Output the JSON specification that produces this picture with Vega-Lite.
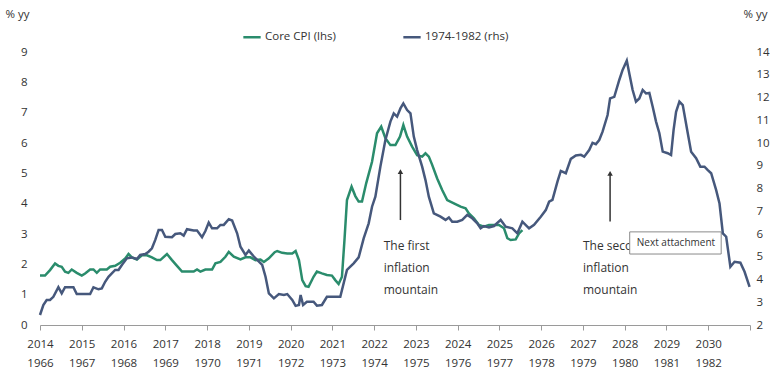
{
  "$schema": "https://vega.github.io/schema/vega-lite/v6.json",
  "width": 710,
  "height": 273,
  "autosize": "none",
  "padding": {"left": 40, "top": 52, "right": 30, "bottom": 52},
  "background": "white",
  "config": {
    "view": {"stroke": null},
    "font": "Open Sans",
    "text": {"font": "Open Sans"}
  },
  "datasets": {
    "core": [
      {"t":2014.00,"v":1.63},{"t":2014.12,"v":1.63},{"t":2014.24,"v":1.81},{"t":2014.36,"v":2.03},{"t":2014.44,"v":1.95},{"t":2014.52,"v":1.92},{"t":2014.60,"v":1.76},{"t":2014.68,"v":1.72},{"t":2014.76,"v":1.83},{"t":2014.88,"v":1.72},
      {"t":2015.00,"v":1.63},{"t":2015.08,"v":1.70},{"t":2015.20,"v":1.83},{"t":2015.28,"v":1.83},{"t":2015.36,"v":1.72},{"t":2015.44,"v":1.83},{"t":2015.60,"v":1.83},{"t":2015.68,"v":1.92},{"t":2015.80,"v":1.95},{"t":2015.92,"v":2.05},
      {"t":2016.04,"v":2.19},{"t":2016.12,"v":2.34},{"t":2016.20,"v":2.23},{"t":2016.32,"v":2.16},{"t":2016.44,"v":2.30},{"t":2016.56,"v":2.30},{"t":2016.68,"v":2.23},{"t":2016.80,"v":2.14},{"t":2016.88,"v":2.14},
      {"t":2017.04,"v":2.34},{"t":2017.16,"v":2.14},{"t":2017.28,"v":1.95},{"t":2017.40,"v":1.76},{"t":2017.52,"v":1.76},{"t":2017.68,"v":1.76},{"t":2017.76,"v":1.83},{"t":2017.84,"v":1.76},{"t":2017.96,"v":1.83},
      {"t":2018.12,"v":1.83},{"t":2018.20,"v":2.03},{"t":2018.32,"v":2.08},{"t":2018.44,"v":2.25},{"t":2018.52,"v":2.41},{"t":2018.64,"v":2.25},{"t":2018.80,"v":2.16},{"t":2018.92,"v":2.23},
      {"t":2019.04,"v":2.23},{"t":2019.16,"v":2.14},{"t":2019.28,"v":2.16},{"t":2019.36,"v":2.08},{"t":2019.48,"v":2.20},{"t":2019.62,"v":2.40},{"t":2019.68,"v":2.44},{"t":2019.80,"v":2.38},{"t":2019.92,"v":2.36},
      {"t":2020.04,"v":2.36},{"t":2020.12,"v":2.44},{"t":2020.20,"v":2.14},{"t":2020.28,"v":1.48},{"t":2020.36,"v":1.28},{"t":2020.43,"v":1.26},{"t":2020.55,"v":1.59},{"t":2020.63,"v":1.76},{"t":2020.75,"v":1.70},{"t":2020.87,"v":1.65},{"t":2020.99,"v":1.63},
      {"t":2021.07,"v":1.48},{"t":2021.15,"v":1.35},{"t":2021.23,"v":1.59},{"t":2021.29,"v":2.80},{"t":2021.35,"v":4.12},{"t":2021.46,"v":4.56},{"t":2021.55,"v":4.25},{"t":2021.63,"v":4.07},{"t":2021.71,"v":4.07},{"t":2021.81,"v":4.67},{"t":2021.95,"v":5.38},
      {"t":2022.07,"v":6.32},{"t":2022.17,"v":6.54},{"t":2022.27,"v":6.16},{"t":2022.39,"v":5.93},{"t":2022.51,"v":5.93},{"t":2022.62,"v":6.21},{"t":2022.70,"v":6.59},{"t":2022.79,"v":6.21},{"t":2022.91,"v":5.88},
      {"t":2023.03,"v":5.60},{"t":2023.15,"v":5.55},{"t":2023.23,"v":5.66},{"t":2023.31,"v":5.55},{"t":2023.39,"v":5.28},{"t":2023.51,"v":4.83},{"t":2023.63,"v":4.45},{"t":2023.75,"v":4.12},{"t":2023.91,"v":4.01},
      {"t":2024.07,"v":3.90},{"t":2024.19,"v":3.85},{"t":2024.27,"v":3.68},{"t":2024.39,"v":3.52},{"t":2024.51,"v":3.30},{"t":2024.63,"v":3.24},{"t":2024.75,"v":3.30},{"t":2024.87,"v":3.30},{"t":2024.99,"v":3.30},
      {"t":2025.11,"v":3.19},{"t":2025.19,"v":2.86},{"t":2025.27,"v":2.80},{"t":2025.39,"v":2.82},{"t":2025.47,"v":3.02},{"t":2025.55,"v":3.13}
    ],
    "hist": [
      {"t":2014.00,"v":2.44},{"t":2014.08,"v":2.88},{"t":2014.16,"v":3.10},{"t":2014.24,"v":3.10},{"t":2014.32,"v":3.24},{"t":2014.44,"v":3.66},{"t":2014.52,"v":3.39},{"t":2014.60,"v":3.66},{"t":2014.80,"v":3.66},{"t":2014.88,"v":3.36},
      {"t":2015.00,"v":3.36},{"t":2015.20,"v":3.36},{"t":2015.28,"v":3.66},{"t":2015.40,"v":3.57},{"t":2015.48,"v":3.61},{"t":2015.56,"v":3.90},{"t":2015.64,"v":4.12},{"t":2015.72,"v":4.27},{"t":2015.80,"v":4.42},{"t":2015.88,"v":4.42},{"t":2015.96,"v":4.64},
      {"t":2016.08,"v":4.93},{"t":2016.20,"v":4.97},{"t":2016.32,"v":4.90},{"t":2016.40,"v":5.08},{"t":2016.52,"v":5.12},{"t":2016.60,"v":5.22},{"t":2016.68,"v":5.37},{"t":2016.76,"v":5.74},{"t":2016.84,"v":6.18},{"t":2016.92,"v":6.18},
      {"t":2017.00,"v":5.88},{"t":2017.16,"v":5.86},{"t":2017.24,"v":6.00},{"t":2017.36,"v":6.03},{"t":2017.44,"v":5.93},{"t":2017.52,"v":6.21},{"t":2017.68,"v":6.15},{"t":2017.76,"v":6.15},{"t":2017.88,"v":5.86},{"t":2017.96,"v":6.13},
      {"t":2018.04,"v":6.50},{"t":2018.12,"v":6.25},{"t":2018.24,"v":6.25},{"t":2018.32,"v":6.40},{"t":2018.40,"v":6.40},{"t":2018.52,"v":6.65},{"t":2018.60,"v":6.59},{"t":2018.72,"v":6.03},{"t":2018.80,"v":5.44},{"t":2018.92,"v":5.08},
      {"t":2019.00,"v":5.27},{"t":2019.12,"v":5.01},{"t":2019.20,"v":4.86},{"t":2019.32,"v":4.64},{"t":2019.40,"v":4.12},{"t":2019.48,"v":3.39},{"t":2019.60,"v":3.17},{"t":2019.72,"v":3.36},{"t":2019.84,"v":3.32},{"t":2019.92,"v":3.36},
      {"t":2020.04,"v":3.10},{"t":2020.12,"v":2.84},{"t":2020.20,"v":2.88},{"t":2020.24,"v":3.32},{"t":2020.30,"v":2.88},{"t":2020.39,"v":3.02},{"t":2020.55,"v":3.02},{"t":2020.63,"v":2.85},{"t":2020.75,"v":2.88},{"t":2020.87,"v":3.24},
      {"t":2021.07,"v":3.24},{"t":2021.19,"v":3.24},{"t":2021.35,"v":4.42},{"t":2021.51,"v":4.71},{"t":2021.63,"v":4.97},{"t":2021.75,"v":5.81},{"t":2021.87,"v":6.47},{"t":2021.95,"v":7.20},
      {"t":2022.03,"v":7.64},{"t":2022.15,"v":8.96},{"t":2022.27,"v":10.13},{"t":2022.39,"v":10.94},{"t":2022.47,"v":11.30},{"t":2022.55,"v":11.16},{"t":2022.63,"v":11.52},{"t":2022.70,"v":11.74},{"t":2022.79,"v":11.45},{"t":2022.87,"v":11.30},{"t":2022.95,"v":10.28},
      {"t":2023.03,"v":9.69},{"t":2023.15,"v":8.96},{"t":2023.23,"v":8.37},{"t":2023.31,"v":7.64},{"t":2023.43,"v":6.91},{"t":2023.59,"v":6.76},{"t":2023.71,"v":6.62},{"t":2023.79,"v":6.73},{"t":2023.87,"v":6.54},{"t":2023.99,"v":6.54},
      {"t":2024.11,"v":6.62},{"t":2024.23,"v":6.84},{"t":2024.35,"v":6.69},{"t":2024.47,"v":6.47},{"t":2024.55,"v":6.25},{"t":2024.63,"v":6.35},{"t":2024.75,"v":6.29},{"t":2024.87,"v":6.35},
      {"t":2025.03,"v":6.62},{"t":2025.15,"v":6.32},{"t":2025.31,"v":6.25},{"t":2025.43,"v":6.03},{"t":2025.55,"v":6.54},{"t":2025.71,"v":6.25},{"t":2025.83,"v":6.40},{"t":2025.99,"v":6.76},
      {"t":2026.11,"v":7.05},{"t":2026.19,"v":7.42},{"t":2026.27,"v":7.50},{"t":2026.39,"v":8.30},{"t":2026.47,"v":8.77},{"t":2026.59,"v":8.67},{"t":2026.71,"v":9.30},{"t":2026.83,"v":9.45},{"t":2026.95,"v":9.48},
      {"t":2027.03,"v":9.40},{"t":2027.15,"v":9.69},{"t":2027.23,"v":10.01},{"t":2027.31,"v":9.95},{"t":2027.39,"v":10.13},{"t":2027.47,"v":10.50},{"t":2027.59,"v":11.23},{"t":2027.65,"v":11.96},{"t":2027.75,"v":12.03},{"t":2027.87,"v":12.77},{"t":2027.95,"v":13.21},
      {"t":2028.05,"v":13.62},{"t":2028.11,"v":13.06},{"t":2028.19,"v":12.33},{"t":2028.27,"v":11.82},{"t":2028.35,"v":11.96},{"t":2028.43,"v":12.33},{"t":2028.51,"v":12.18},{"t":2028.59,"v":12.20},{"t":2028.67,"v":11.59},{"t":2028.75,"v":10.94},{"t":2028.83,"v":10.43},{"t":2028.91,"v":9.62},
      {"t":2029.03,"v":9.55},{"t":2029.11,"v":9.47},{"t":2029.17,"v":10.57},{"t":2029.23,"v":11.37},{"t":2029.31,"v":11.82},{"t":2029.39,"v":11.67},{"t":2029.51,"v":10.43},{"t":2029.59,"v":9.62},{"t":2029.71,"v":9.33},{"t":2029.81,"v":8.96},{"t":2029.91,"v":8.96},{"t":2029.99,"v":8.81},
      {"t":2030.07,"v":8.67},{"t":2030.19,"v":7.93},{"t":2030.27,"v":7.34},{"t":2030.35,"v":6.03},{"t":2030.43,"v":5.88},{"t":2030.53,"v":4.56},{"t":2030.63,"v":4.78},{"t":2030.77,"v":4.74},{"t":2030.87,"v":4.34},{"t":2030.99,"v":3.68}
    ],
    "notes": [
      {"t": 2022.23, "v": 2.77, "txt": "The first\ninflation\nmountain"},
      {"t": 2027.0, "v": 2.77, "txt": "The second\ninflation\nmountain"}
    ],
    "arrows": [
      {"t": 2022.63, "v": 3.46, "v2": 5.06},
      {"t": 2027.65, "v": 3.41, "v2": 5.0}
    ],
    "heads": [
      {"t": 2022.63, "v": 5.06},
      {"t": 2027.65, "v": 5.0}
    ],
    "box": [
      {"t": 2028.12, "t2": 2030.31, "v": 2.34, "v2": 3.07}
    ],
    "boxlabel": [
      {"t": 2028.29, "v": 2.70, "txt": "Next attachment"}
    ]
  },
  "layer": [
    {
      "encoding": {
        "x": {
          "field": "t", "type": "quantitative",
          "scale": {"domain": [2014, 2031], "nice": false, "zero": false},
          "axis": {
            "values": [2014,2015,2016,2017,2018,2019,2020,2021,2022,2023,2024,2025,2026,2027,2028,2029,2030,2031],
            "labelExpr": "datum.value > 2030 ? '' : [format(datum.value, 'd'), format(datum.value - 48, 'd')]",
            "title": null,
            "grid": false,
            "domainColor": "#9a9a9a",
            "domainWidth": 1,
            "tickColor": "#9a9a9a",
            "tickSize": 5,
            "labelPadding": 8,
            "labelLineHeight": 19,
            "labelFontSize": 11.5,
            "labelColor": "#333333",
            "labelFlush": false,
            "labelOverlap": false
          }
        },
        "y": {
          "field": "v", "type": "quantitative",
          "scale": {"domain": [0, 9], "nice": false, "zero": false},
          "axis": {
            "orient": "left",
            "values": [0,1,2,3,4,5,6,7,8,9],
            "title": "% yy",
            "titleAngle": 0,
            "titleX": -35,
            "titleY": -38,
            "titleAlign": "left",
            "titleBaseline": "middle",
            "titleFontSize": 11.5,
            "titleFontWeight": "normal",
            "titleColor": "#333333",
            "domain": false,
            "ticks": false,
            "grid": false,
            "labelPadding": 13,
            "labelFontSize": 11.5,
            "labelColor": "#333333",
            "labelOverlap": false,
            "labelFlush": false
          }
        }
      },
      "layer": [
        {
          "data": {"name": "core"},
          "mark": {"type": "line", "strokeWidth": 2.5, "interpolate": "linear"},
          "encoding": {
            "color": {
              "datum": "Core CPI (lhs)",
              "type": "nominal",
              "scale": {"domain": ["Core CPI (lhs)", "1974-1982 (rhs)"], "range": ["#2a8c6c", "#46587c"]},
              "legend": {
                "orient": "none",
                "legendX": 202,
                "legendY": -25,
                "direction": "horizontal",
                "title": null,
                "symbolType": "stroke",
                "symbolStrokeWidth": 2.5,
                "symbolSize": 300,
                "labelFontSize": 11.5,
                "labelColor": "#333333",
                "labelOffset": 3,
                "columnPadding": 62
              }
            }
          }
        },
        {
          "data": {"name": "notes"},
          "mark": {"type": "text", "align": "left", "baseline": "top", "lineBreak": "\n", "lineHeight": 22, "fontSize": 12, "color": "#333333"},
          "encoding": {"text": {"field": "txt"}}
        },
        {
          "data": {"name": "arrows"},
          "mark": {"type": "rule", "color": "#333333", "strokeWidth": 1.5},
          "encoding": {"y2": {"field": "v2"}}
        },
        {
          "data": {"name": "heads"},
          "mark": {"type": "point", "shape": "triangle-up", "filled": true, "size": 30, "color": "#333333", "opacity": 1},
          "encoding": {}
        },
        {
          "data": {"name": "box"},
          "mark": {"type": "rect", "fill": "white", "stroke": "#8a8a8a", "strokeWidth": 1},
          "encoding": {"x2": {"field": "t2"}, "y2": {"field": "v2"}}
        },
        {
          "data": {"name": "boxlabel"},
          "mark": {"type": "text", "align": "left", "baseline": "middle", "fontSize": 10, "color": "#333333"},
          "encoding": {"text": {"field": "txt"}}
        }
      ]
    },
    {
      "data": {"name": "hist"},
      "mark": {"type": "line", "strokeWidth": 2.5, "interpolate": "linear"},
      "encoding": {
        "x": {"field": "t", "type": "quantitative"},
        "y": {
          "field": "v", "type": "quantitative",
          "scale": {"domain": [2, 14], "nice": false, "zero": false},
          "axis": {
            "orient": "right",
            "values": [2,3,4,5,6,7,8,9,10,11,12,13,14],
            "title": "% yy",
            "titleAngle": 0,
            "titleX": -7,
            "titleY": -38,
            "titleAlign": "left",
            "titleBaseline": "middle",
            "titleFontSize": 11.5,
            "titleFontWeight": "normal",
            "titleColor": "#333333",
            "domain": false,
            "ticks": false,
            "grid": false,
            "labelPadding": 6,
            "labelFontSize": 11.5,
            "labelColor": "#333333",
            "labelOverlap": false,
            "labelFlush": false
          }
        },
        "color": {"datum": "1974-1982 (rhs)", "type": "nominal"}
      }
    }
  ],
  "resolve": {"scale": {"y": "independent"}}
}
